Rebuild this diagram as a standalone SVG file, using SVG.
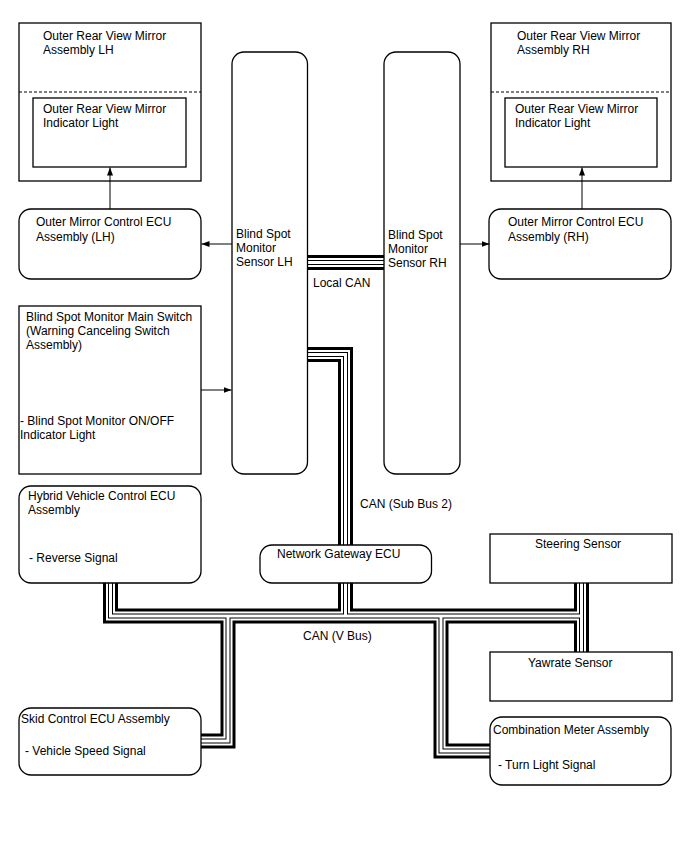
<svg xmlns="http://www.w3.org/2000/svg" width="688" height="852" viewBox="0 0 688 852">
<style>
text{font-family:"Liberation Sans",Arial,sans-serif;font-size:12px;fill:#000}
.box{fill:#fff;stroke:#000;stroke-width:1.3}
.dash{stroke:#000;stroke-width:1;stroke-dasharray:3,2;fill:none}
.arr{stroke:#000;stroke-width:1;fill:none;marker-end:url(#ah)}
.b1{stroke:#000;stroke-width:15;fill:none}
.b2{stroke:#fff;stroke-width:9;fill:none}
.b3{stroke:#000;stroke-width:5;fill:none}
.b4{stroke:#fff;stroke-width:3;fill:none}
</style>
<defs>
<marker id="ah" markerUnits="userSpaceOnUse" markerWidth="9" markerHeight="7" refX="8" refY="3" orient="auto">
<path d="M0,0 L8,3 L0,6 z" fill="#000"/>
</marker>
<path id="pLocal" d="M307,262.5 H384"/>
<path id="pSub2" d="M307,354.5 H345.5 V545"/>
<path id="pGw" d="M345.5,582 V616"/>
<path id="pV" d="M110.5,582 V616 H581.5"/>
<path id="pSteer" d="M581.5,582 V652"/>
<path id="pSkid" d="M228,616 V741 H201"/>
<path id="pComb" d="M441,616 V751 H490"/>
</defs>
<rect width="688" height="852" fill="#fff"/>

<g id="connectors">
<g class="b1"><use href="#pLocal"/><use href="#pSub2"/><use href="#pGw"/><use href="#pV"/><use href="#pSteer"/><use href="#pSkid"/><use href="#pComb"/></g>
<g class="b2"><use href="#pLocal"/><use href="#pSub2"/><use href="#pGw"/><use href="#pV"/><use href="#pSteer"/><use href="#pSkid"/><use href="#pComb"/></g>
<g class="b3"><use href="#pLocal"/><use href="#pSub2"/><use href="#pGw"/><use href="#pV"/><use href="#pSteer"/><use href="#pSkid"/><use href="#pComb"/></g>
<g class="b4"><use href="#pLocal"/><use href="#pSub2"/><use href="#pGw"/><use href="#pV"/><use href="#pSteer"/><use href="#pSkid"/><use href="#pComb"/></g>
<text x="313" y="287">Local CAN</text>
<text x="360" y="508">CAN (Sub Bus 2)</text>
<text x="303" y="640">CAN (V Bus)</text>
</g>

<g id="mirrorLH">
<rect class="box" x="19" y="23" width="182" height="158"/>
<line class="dash" x1="19" y1="92" x2="201" y2="92"/>
<text x="43" y="40">Outer Rear View Mirror</text>
<text x="43" y="54">Assembly LH</text>
</g>
<g id="indicatorLH">
<rect class="box" x="33" y="98" width="153" height="69"/>
<text x="43" y="113">Outer Rear View Mirror</text>
<text x="43" y="127">Indicator Light</text>
</g>

<g id="mirrorRH">
<rect class="box" x="491" y="23" width="180" height="158"/>
<line class="dash" x1="491" y1="92" x2="671" y2="92"/>
<text x="517" y="40">Outer Rear View Mirror</text>
<text x="517" y="54">Assembly RH</text>
</g>
<g id="indicatorRH">
<rect class="box" x="505" y="98" width="152" height="69"/>
<text x="515" y="113">Outer Rear View Mirror</text>
<text x="515" y="127">Indicator Light</text>
</g>

<g id="ecuLH">
<rect class="box" x="19" y="209" width="182" height="70" rx="12"/>
<text x="36" y="226">Outer Mirror Control ECU</text>
<text x="36" y="241">Assembly (LH)</text>
</g>
<g id="ecuRH">
<rect class="box" x="489" y="209" width="182" height="70" rx="12"/>
<text x="508" y="226">Outer Mirror Control ECU</text>
<text x="508" y="241">Assembly (RH)</text>
</g>

<g id="sensorLH">
<rect class="box" x="232" y="52" width="75.5" height="422" rx="12"/>
<text x="236" y="238">Blind Spot</text>
<text x="236" y="252">Monitor</text>
<text x="236" y="266">Sensor LH</text>
</g>
<g id="sensorRH">
<rect class="box" x="384" y="52" width="76" height="422" rx="12"/>
<text x="388" y="239">Blind Spot</text>
<text x="388" y="253">Monitor</text>
<text x="388" y="267">Sensor RH</text>
</g>

<g id="mainSwitch">
<rect class="box" x="19" y="306" width="182" height="168"/>
<text x="26" y="321">Blind Spot Monitor Main Switch</text>
<text x="26" y="335">(Warning Canceling Switch</text>
<text x="26" y="349">Assembly)</text>
<text x="20" y="425">- Blind Spot Monitor ON/OFF</text>
<text x="20" y="439">Indicator Light</text>
</g>

<g id="hybridECU">
<rect class="box" x="19" y="486" width="182" height="97" rx="12"/>
<text x="28" y="500">Hybrid Vehicle Control ECU</text>
<text x="28" y="514">Assembly</text>
<text x="29" y="562">- Reverse Signal</text>
</g>

<g id="gatewayECU">
<rect class="box" x="260" y="545" width="171.5" height="38" rx="12"/>
<text x="277" y="558">Network Gateway ECU</text>
</g>

<g id="steeringSensor">
<rect class="box" x="490" y="534" width="182" height="49"/>
<text x="535" y="548">Steering Sensor</text>
</g>

<g id="yawrateSensor">
<rect class="box" x="490" y="652" width="182" height="49"/>
<text x="528" y="667">Yawrate Sensor</text>
</g>

<g id="skidECU">
<rect class="box" x="19" y="708" width="182" height="67" rx="12"/>
<text x="21" y="723">Skid Control ECU Assembly</text>
<text x="25" y="755">- Vehicle Speed Signal</text>
</g>

<g id="combMeter">
<rect class="box" x="490" y="717" width="181" height="68" rx="12"/>
<text x="493" y="734">Combination Meter Assembly</text>
<text x="498" y="769">- Turn Light Signal</text>
</g>

<g id="arrows">
<path class="arr" d="M110,209 V167.5"/>
<path class="arr" d="M582,209 V167.5"/>
<path class="arr" d="M232,244 H201.5"/>
<path class="arr" d="M460,244 H489.5"/>
<path class="arr" d="M201,390 H231.5"/>
</g>
</svg>
